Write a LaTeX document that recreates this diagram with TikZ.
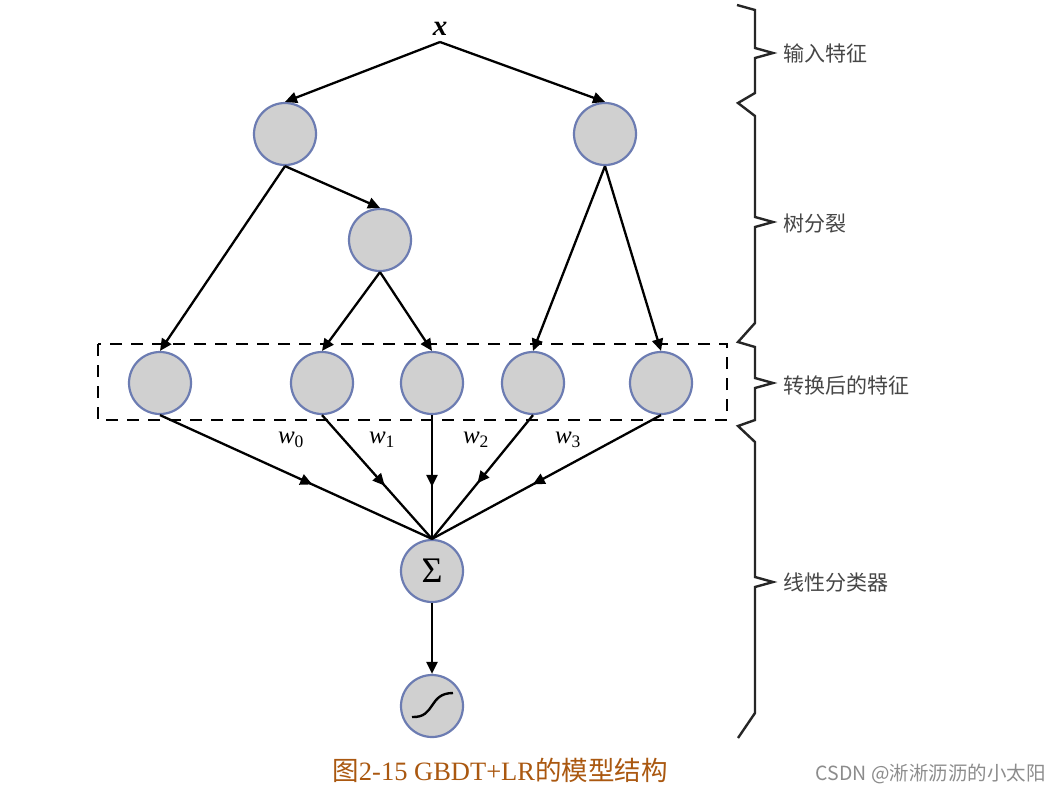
\documentclass[tikz,border=0pt]{standalone}
\usepackage{fontspec}
\setmainfont{Liberation Serif}
\newfontfamily\cjk{Noto Sans CJK SC}
\usetikzlibrary{arrows.meta,decorations.markings}
\definecolor{nodefill}{RGB}{208,208,208}
\definecolor{nodeborder}{RGB}{108,124,178}
\definecolor{labelgray}{RGB}{70,70,70}
\definecolor{captionbrown}{RGB}{170,88,16}
\definecolor{markgray}{RGB}{140,140,140}
\begin{document}
\begin{tikzpicture}[x=1pt,y=-1pt,
  neuron/.style={circle, draw=nodeborder, fill=nodefill, line width=2.2pt, minimum size=62pt, inner sep=0pt},
  conn/.style={line width=2.3pt, -{Triangle[length=12pt,width=11pt]}},
  midarrow/.style={line width=2.3pt, postaction={decorate}, decoration={markings, mark=at position #1 with {\arrow{Triangle[length=12pt,width=11pt]}}}},
  bracelabel/.style={anchor=west, text=labelgray, font=\cjk\fontsize{21}{24}\selectfont, inner sep=0pt},
  wlabel/.style={font=\fontsize{25}{28}\selectfont, inner sep=0pt},
  bracepath/.style={line width=2.4pt, draw=black!85, line join=miter}
]
\useasboundingbox (0,0) rectangle (1060,793);
\fill[white] (0,0) rectangle (1060,793);

% input
\node[font=\bfseries\itshape\fontsize{29}{30}\selectfont, inner sep=0pt] (xin) at (440,29) {x};
\coordinate (apex) at (440,42);

% neurons
\node[neuron] (tl) at (285,134) {};
\node[neuron] (tr) at (605,134) {};
\node[neuron] (mid) at (380,240) {};
\node[neuron] (r1) at (160,383) {};
\node[neuron] (r2) at (322,383) {};
\node[neuron] (r3) at (432,383) {};
\node[neuron] (r4) at (533,383) {};
\node[neuron] (r5) at (661,383) {};
\node[neuron] (sig) at (432,571) {\fontsize{36}{36}\selectfont Σ};
\node[neuron] (sgm) at (432,706) {};
\draw[line width=2.4pt] ([shift={(-20,11)}]sgm.center) .. controls ([shift={(4,12)}]sgm.center) and ([shift={(-4,-13)}]sgm.center) .. ([shift={(21,-13)}]sgm.center);

% dashed group box
\draw[line width=2.2pt, dash pattern=on 12pt off 9pt] (98,344) rectangle (727,420);

% tree connectors
\draw[conn] (apex) -- (tl.north);
\draw[conn] (apex) -- (tr.north);
\draw[conn] (tl.south) -- (mid.north);
\draw[conn] (tl.south) -- (r1.north);
\draw[conn] (mid.south) -- (r2.north);
\draw[conn] (mid.south) -- (r3.north);
\draw[conn] (tr.south) -- (r4.north);
\draw[conn] (tr.south) -- (r5.north);

% linear classifier
\draw[midarrow=0.56] (r1.south) -- (sig.north);
\draw[midarrow=0.57] (r2.south) -- (sig.north);
\draw[midarrow=0.58] (r3.south) -- (sig.north);
\draw[midarrow=0.55] (r4.south) -- (sig.north);
\draw[midarrow=0.56] (r5.south) -- (sig.north);
\draw[conn] (sig.south) -- (sgm.north);

% weights
\node[wlabel] (w0) at (291,440) {\textit{w}\textsubscript{0}};
\node[wlabel] (w1) at (382,440) {\textit{w}\textsubscript{1}};
\node[wlabel] (w2) at (476,440) {\textit{w}\textsubscript{2}};
\node[wlabel] (w3) at (568,440) {\textit{w}\textsubscript{3}};

% braces
\draw[bracepath] (737,5) -- (755,10) -- (755,48) -- (773,53) -- (755,58) -- (755,93) -- (738,103) -- (755,116)
  -- (755,217) -- (773,222) -- (755,227) -- (755,323) -- (738,342) -- (755,347)
  -- (755,378) -- (773,383) -- (755,388) -- (755,420) -- (738,426) -- (755,442)
  -- (755,577) -- (773,582) -- (755,587) -- (755,713) -- (738,738);
\node[bracelabel] (lab1) at (783,53) {输入特征};
\node[bracelabel] (lab2) at (783,224) {树分裂};
\node[bracelabel] (lab3) at (783,385) {转换后的特征};
\node[bracelabel] (lab4) at (783,583) {线性分类器};

% caption and watermark
\node[text=captionbrown, font=\fontsize{26.5}{30}\selectfont, inner sep=0pt] (cap) at (500,770) {{\cjk 图}2-15 GBDT+LR{\cjk 的模型结构}};
\node[text=markgray, font=\cjk\fontsize{19.5}{22}\selectfont, anchor=east, inner sep=0pt] (mark) at (1046,774) {CSDN @淅淅沥沥的小太阳};
\end{tikzpicture}
\end{document}
